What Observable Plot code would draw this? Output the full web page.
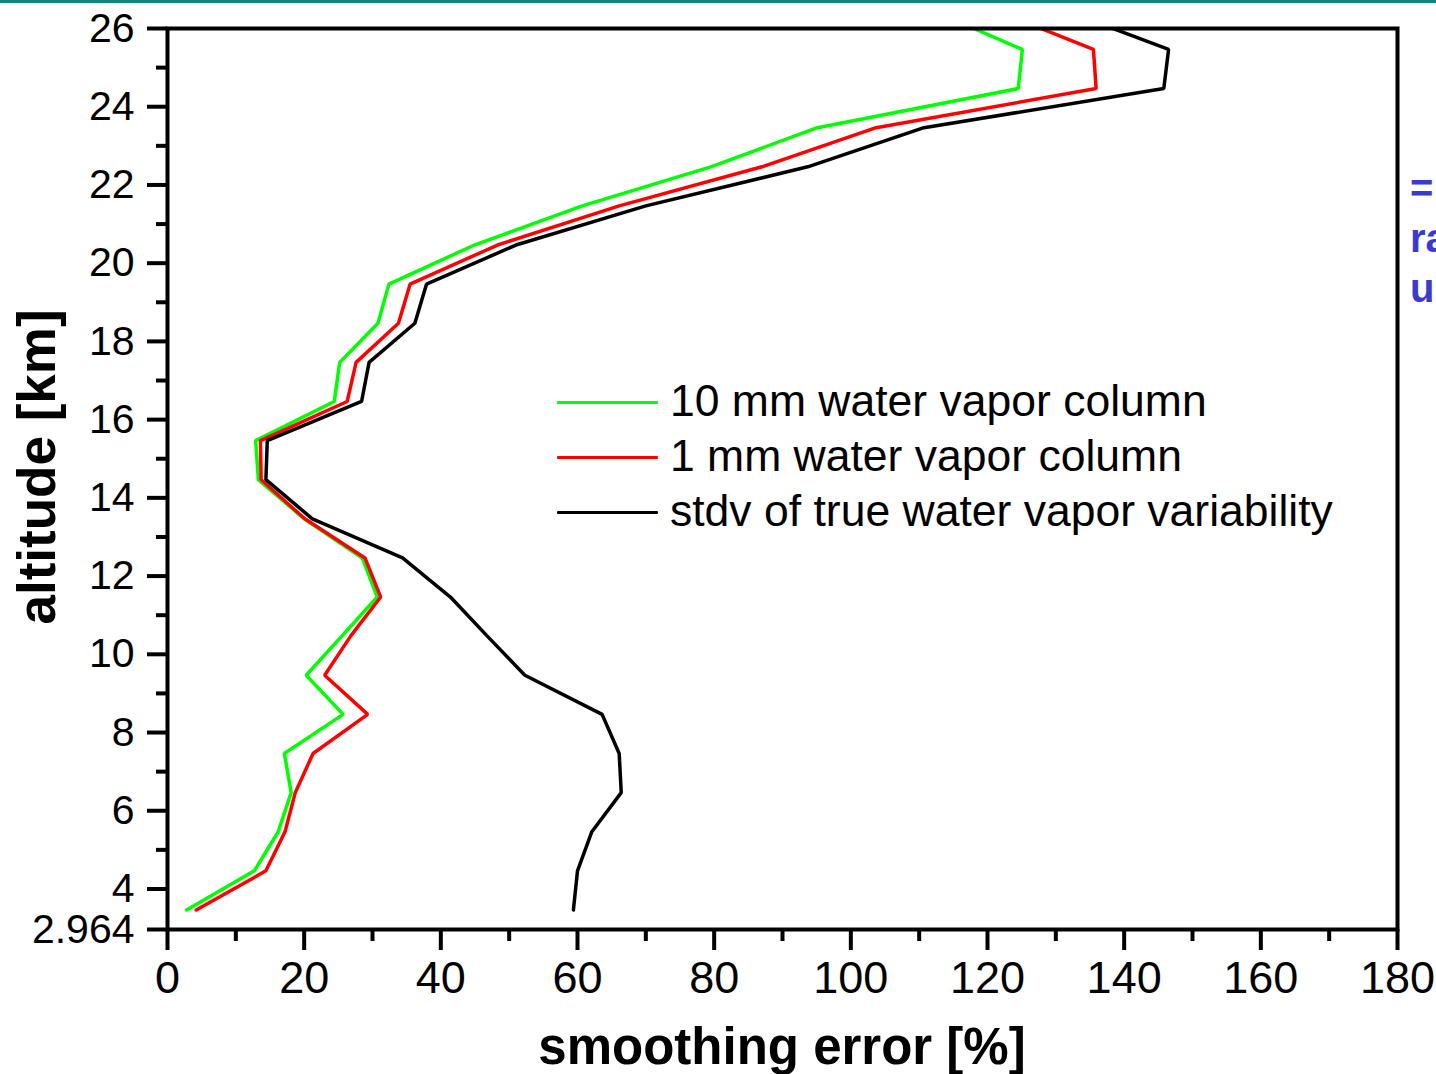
<!DOCTYPE html>
<html>
<head>
<meta charset="utf-8">
<script src="https://cdn.jsdelivr.net/npm/d3@7"></script>
<script src="https://cdn.jsdelivr.net/npm/@observablehq/plot@0.6"></script>
<style>
  html, body { margin: 0; padding: 0; background: #fff; }
  #wrap { position: relative; width: 1436px; height: 1074px; overflow: hidden; font-family: "Liberation Sans", Arial, sans-serif; }
  #topline { position: absolute; left: 0; top: 0; width: 1436px; height: 3px; background: #17827e; }
  #chart { position: absolute; left: 0; top: 0; }
  .ttl { position: absolute; font-weight: bold; color: #000; white-space: nowrap; line-height: 1; }
  #xtitle { left: 782px; top: 1021px; transform: translateX(-50%); font-size: 51px; }
  #ytitle { left: 36px; top: 467px; transform: translate(-50%, -50%) rotate(-90deg); font-size: 53px; }
  #legend { position: absolute; left: 557px; top: 375px; }
  .lg { position: relative; height: 55px; }
  .lg .sw { position: absolute; left: 0; top: 26px; width: 101px; height: 3px; border-radius: 1px; }
  .lg .tx { position: absolute; left: 113px; top: 4px; font-size: 44.5px; line-height: 1; white-space: nowrap; color: #000; }
  .side { position: absolute; left: 1410px; color: #3a3ad0; font-weight: bold; font-size: 40px; line-height: 1; white-space: nowrap; }
</style>
</head>
<body>
<div id="wrap">
  <div id="topline"></div>
  <div id="chart"></div>
  <div id="xtitle" class="ttl">smoothing error [%]</div>
  <div id="ytitle" class="ttl">altitude [km]</div>
  <div id="legend"></div>
  <div class="side" style="top:168px;">=</div>
  <div class="side" style="top:218px;">ra</div>
  <div class="side" style="top:268px;">u</div>
</div>
<script>
// ---- data ----
const altitudes = [3.464, 4.464, 5.464, 6.464, 7.464, 8.464, 9.464, 10.464, 11.464, 12.464, 13.464, 14.464,
                   15.464, 16.464, 17.464, 18.464, 19.464, 20.464, 21.464, 22.464, 23.464, 24.464, 25.464, 26.464];
const err10mm = [2.8, 12.7, 16.2, 18.1, 17.1, 25.7, 20.3, 25.5, 30.7, 28.5, 20.0, 13.3,
                 12.9, 24.4, 25.2, 30.8, 32.4, 44.9, 60.7, 79.5, 95.1, 124.5, 125.1, 111.9];
const err1mm = [4.2, 14.4, 17.2, 18.7, 21.3, 29.3, 23.0, 26.8, 31.2, 28.9, 20.1, 13.7,
                13.6, 26.3, 27.6, 33.8, 35.5, 48.3, 66.1, 87.0, 103.7, 135.9, 135.5, 121.2];
const stdvTrue = [59.4, 60.0, 62.1, 66.4, 66.1, 63.6, 52.3, 46.8, 41.4, 34.4, 21.2, 14.4,
                  14.6, 28.4, 29.5, 36.2, 37.9, 51.0, 70.0, 93.7, 110.7, 145.8, 146.5, 131.3];

const seriesNames = ["10 mm water vapor column", "1 mm water vapor column", "stdv of true water vapor variability"];
const seriesColors = ["#00ff00", "#ff0000", "#000000"];

const xMajorTicks = [0, 20, 40, 60, 80, 100, 120, 140, 160, 180];
const xMinorTicks = [10, 30, 50, 70, 90, 110, 130, 150, 170];
const yMajorTicks = [2.964, 4, 6, 8, 10, 12, 14, 16, 18, 20, 22, 24, 26];
const yMinorTicks = [5, 7, 9, 11, 13, 15, 17, 19, 21, 23, 25];

const xDomain = [0, 180];
const yDomain = [2.964, 26];

// ---- build table ----
const seriesValues = [err10mm, err1mm, stdvTrue];
const rows = [];
seriesValues.forEach((vals, si) => {
  vals.forEach((v, i) => rows.push({series: seriesNames[si], alt: altitudes[i], err: v}));
});

const chart = Plot.plot({
  width: 1436,
  height: 1074,
  marginLeft: 167,
  marginRight: 39,
  marginTop: 28,
  marginBottom: 145,
  style: {fontFamily: "'Liberation Sans', Arial, sans-serif", color: "#000", background: "transparent"},
  x: {domain: xDomain},
  y: {domain: yDomain},
  color: {domain: seriesNames, range: seriesColors},
  marks: [
    Plot.line(rows, {x: "err", y: "alt", z: "series", stroke: "series", strokeWidth: 3.5, clip: true, strokeLinejoin: "miter"}),
    Plot.axisX(xMajorTicks, {tickSize: 21, tickPadding: 11, strokeWidth: 4, fontSize: 45, label: null, tickFormat: d => String(d)}),
    Plot.axisX(xMinorTicks, {tickSize: 12, strokeWidth: 4, text: null, label: null}),
    Plot.axisY(yMajorTicks, {tickSize: 20, tickPadding: 13, strokeWidth: 4, fontSize: 41, label: null,
                             tickFormat: d => d === 2.964 ? "2.964" : String(d)}),
    Plot.axisY(yMinorTicks, {tickSize: 11, strokeWidth: 4, text: null, label: null}),
    Plot.frame({stroke: "#000", strokeWidth: 4})
  ]
});
document.getElementById("chart").appendChild(chart);

// ---- legend ----
const lg = document.getElementById("legend");
seriesNames.forEach((n, i) => {
  const row = document.createElement("div");
  row.className = "lg";
  row.innerHTML = `<div class="sw" style="background:${seriesColors[i]}"></div><div class="tx">${n}</div>`;
  lg.appendChild(row);
});
</script>
</body>
</html>
